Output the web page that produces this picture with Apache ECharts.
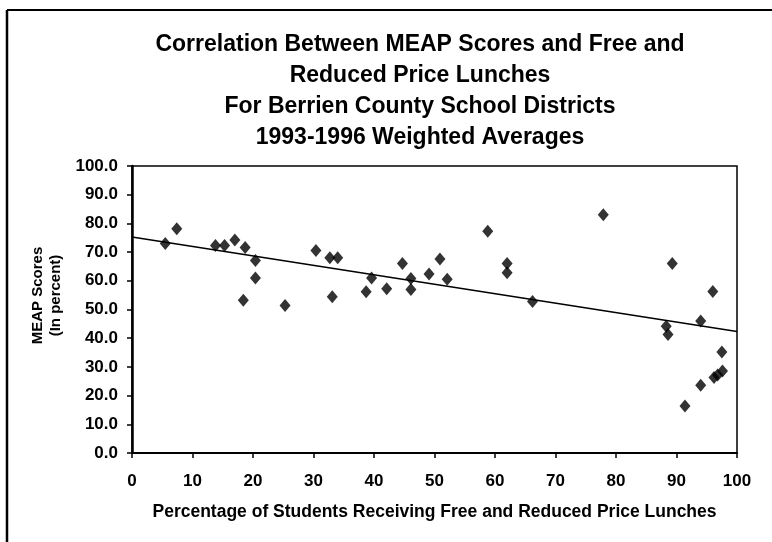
<!DOCTYPE html>
<html>
<head>
<meta charset="utf-8">
<script src="https://cdn.jsdelivr.net/npm/echarts@6/dist/echarts.min.js"></script>
<style>
  html, body { margin: 0; padding: 0; background: #fff; }
  #chart { width: 772px; height: 542px; }
</style>
</head>
<body>
<div id="chart"></div>
<script>
const titleLines = [
  'Correlation Between MEAP Scores and Free and',
  'Reduced Price Lunches',
  'For Berrien County School Districts',
  '1993-1996 Weighted Averages'
]
// percent free/reduced lunch, MEAP score
const lunchPct = [5.5, 7.4, 13.8, 15.3, 17.0, 18.7, 20.4, 20.4, 18.4, 25.3,
  30.4, 32.7, 34.0, 33.1, 38.7, 39.6, 42.1, 44.7, 46.1, 46.1,
  49.1, 50.9, 52.1, 58.8, 62.0, 62.0, 66.2, 77.9, 89.3, 88.3,
  88.6, 94.0, 96.0, 97.5, 97.6, 96.2, 96.8, 94.0, 91.4]
const meapScore = [73.0, 78.1, 72.3, 72.3, 74.2, 71.6, 67.1, 61.0, 53.2, 51.4,
  70.6, 68.0, 68.0, 54.4, 56.2, 61.0, 57.2, 66.0, 60.8, 57.0,
  62.4, 67.6, 60.5, 77.3, 66.0, 62.8, 52.8, 83.0, 66.0, 44.2,
  41.3, 46.0, 56.3, 35.2, 28.6, 26.3, 27.2, 23.6, 16.4]
const trendX = [0, 100]
const trendY = [75.3, 42.3]

const font = 'Liberation Sans'
const points = lunchPct.map((x, i) => [x, meapScore[i]])
const trend = trendX.map((x, i) => [x, trendY[i]])

const chart = echarts.init(document.getElementById('chart'))
chart.setOption({
  animation: false,
  backgroundColor: '#fff',
  title: {
    text: titleLines.join('\n'),
    left: 415,
    top: 24,
    textAlign: 'center',
    textStyle: { fontFamily: font, fontWeight: 'bold', fontSize: 23, lineHeight: 31, color: '#000' }
  },
  grid: {
    left: 132, right: 35, top: 166, bottom: 89,
    show: true, borderColor: '#000', borderWidth: 1.5, backgroundColor: 'transparent'
  },
  xAxis: {
    type: 'value', min: 0, max: 100, interval: 10,
    name: 'Percentage of Students Receiving Free and Reduced Price Lunches',
    nameLocation: 'middle', nameGap: 50,
    nameTextStyle: { fontFamily: font, fontWeight: 'bold', fontSize: 17.5, color: '#000' },
    axisLine: { lineStyle: { color: '#000', width: 2 } },
    axisTick: { show: true, inside: false, length: 5, lineStyle: { color: '#000', width: 1.5 } },
    axisLabel: { fontFamily: font, fontWeight: 'bold', fontSize: 17, color: '#000', margin: 20 },
    splitLine: { show: false }
  },
  yAxis: {
    type: 'value', min: 0, max: 100, interval: 10,
    name: 'MEAP Scores\n(In percent)',
    nameLocation: 'middle', nameRotate: 90, nameGap: 62,
    nameTextStyle: {
      fontFamily: font, fontWeight: 'bold', fontSize: 15, lineHeight: 18, color: '#000',
      padding: [0, 0, 0, 28]
    },
    axisLine: { lineStyle: { color: '#000', width: 2.5 } },
    axisTick: { show: true, inside: false, length: 5, lineStyle: { color: '#000', width: 1.5 } },
    axisLabel: {
      fontFamily: font, fontWeight: 'bold', fontSize: 17, color: '#000', margin: 14,
      formatter: v => v.toFixed(1)
    },
    splitLine: { show: false }
  },
  series: [
    {
      type: 'line',
      data: trend,
      symbol: 'none',
      lineStyle: { color: '#000', width: 1.5 },
      z: 2
    },
    {
      type: 'scatter',
      data: points,
      symbol: 'diamond',
      symbolSize: [11, 13],
      itemStyle: { color: '#000' },
      z: 3
    }
  ],
  graphic: [
    { type: 'line', shape: { x1: 7, y1: 10, x2: 772, y2: 10 }, style: { stroke: '#000', lineWidth: 2 } },
    { type: 'line', shape: { x1: 7, y1: 10, x2: 7, y2: 542 }, style: { stroke: '#000', lineWidth: 2.5 } }
  ]
})
</script>
</body>
</html>
